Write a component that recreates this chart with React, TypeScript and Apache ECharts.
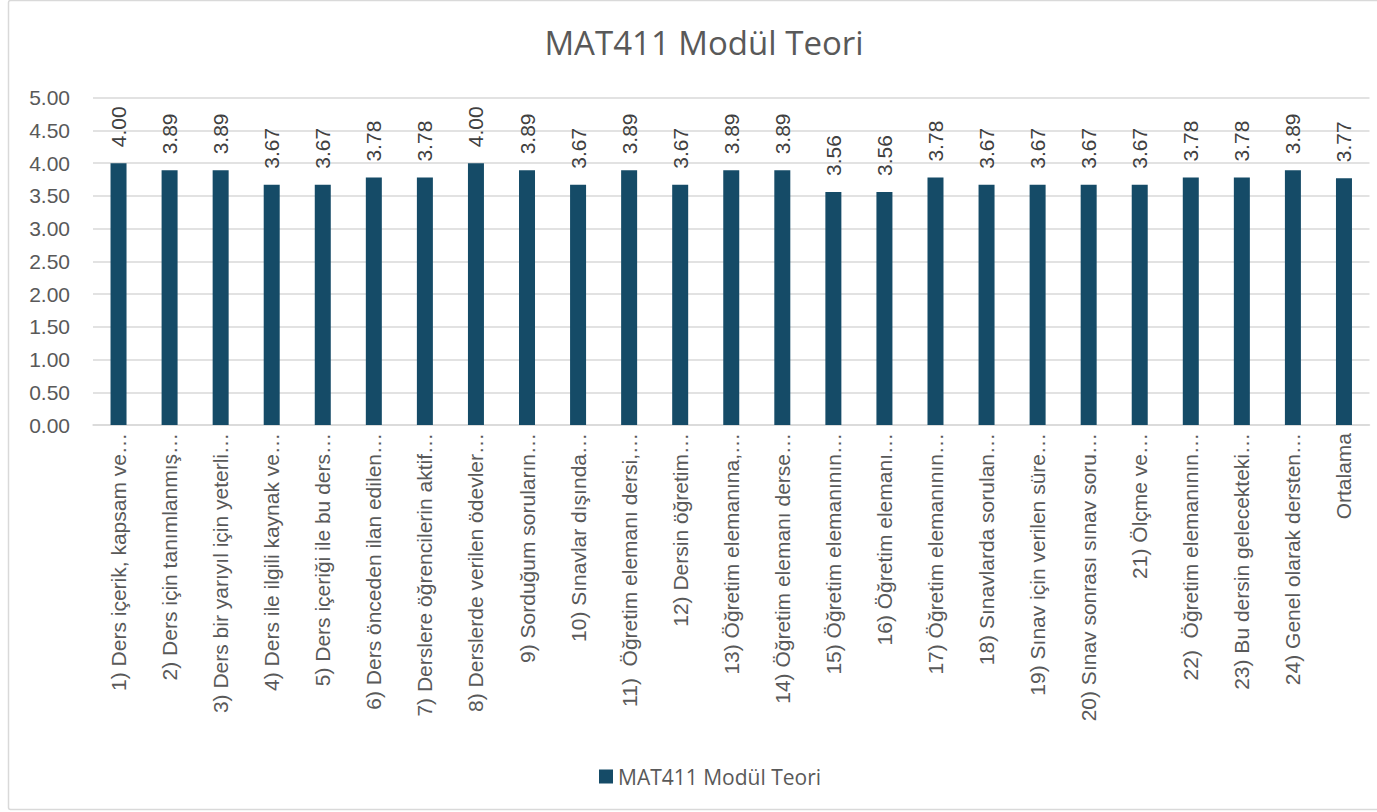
import React, { useEffect, useRef } from "react";
import * as echarts from "echarts";

const categories: string[] = [
  "1) Ders içerik, kapsam ve…",
  "2) Ders için tanımlanmış…",
  "3) Ders bir yarıyıl için yeterli…",
  "4) Ders ile ilgili kaynak ve…",
  "5) Ders içeriği ile bu ders…",
  "6) Ders önceden ilan edilen…",
  "7) Derslere öğrencilerin aktif…",
  "8) Derslerde verilen ödevler…",
  "9) Sorduğum soruların…",
  "10) Sınavlar dışında…",
  "11)  Öğretim elemanı dersi,…",
  "12) Dersin öğretim…",
  "13) Öğretim elemanına,…",
  "14) Öğretim elemanı derse…",
  "15) Öğretim elemanının…",
  "16) Öğretim elemanı…",
  "17) Öğretim elemanının…",
  "18) Sınavlarda sorulan…",
  "19) Sınav için verilen süre…",
  "20) Sınav sonrası sınav soru…",
  "21) Ölçme ve…",
  "22)  Öğretim elemanının…",
  "23) Bu dersin gelecekteki…",
  "24) Genel olarak dersten…",
  "Ortalama",
];

const values: number[] = [
  4.0, 3.89, 3.89, 3.67, 3.67, 3.78, 3.78, 4.0, 3.89, 3.67, 3.89, 3.67, 3.89,
  3.89, 3.56, 3.56, 3.78, 3.67, 3.67, 3.67, 3.67, 3.78, 3.78, 3.89, 3.77,
];

const seriesName = "MAT411 Modül Teori";
const chartTitle = "MAT411 Modül Teori";

export default function App() {
  const ref = useRef<HTMLDivElement>(null);

  useEffect(() => {
    if (!ref.current) return;
    const chart = echarts.init(ref.current, undefined, { renderer: "svg" });
    const labelFont = "'Liberation Sans', Arial, sans-serif";
    chart.setOption({
      animation: false,
      backgroundColor: "#ffffff",
      graphic: [
        {
          type: "rect",
          shape: { x: 8.5, y: 0.5, width: 1420, height: 809, r: 2 },
          style: { fill: "none", stroke: "#d9d9d9", lineWidth: 1.5 },
          silent: true,
        },
        {
          type: "text",
          x: 704,
          y: 42,
          style: {
            text: chartTitle,
            fontSize: 33,
            fontFamily: "'Open Sans', 'Noto Sans', sans-serif",
            fill: "#595959",
            textAlign: "center",
            textVerticalAlign: "middle",
          },
          silent: true,
        },
      ],
      legend: {
        left: 594,
        top: 761,
        icon: "rect",
        itemWidth: 14,
        itemHeight: 14,
        textStyle: {
          fontSize: 21,
          color: "#595959",
          fontFamily: "'Open Sans', 'Noto Sans', sans-serif",
        },
        data: [seriesName],
      },
      grid: {
        left: 93,
        right: 7.5,
        top: 97.7,
        bottom: 387,
        containLabel: false,
      },
      xAxis: {
        type: "category",
        data: categories,
        axisLine: { show: true, lineStyle: { color: "#d9d9d9", width: 1.5 } },
        axisTick: { show: false },
        axisLabel: {
          interval: 0,
          rotate: 90,
          margin: 8,
          fontSize: 21,
          color: "#595959",
          fontFamily: labelFont,
        },
      },
      yAxis: {
        type: "value",
        min: 0,
        max: 5,
        interval: 0.5,
        axisLine: { show: false },
        axisTick: { show: false },
        splitLine: { lineStyle: { color: "#d9d9d9", width: 1.5 } },
        axisLabel: {
          margin: 23,
          fontSize: 21,
          color: "#595959",
          fontFamily: labelFont,
          formatter: (v: number) => v.toFixed(2),
        },
      },
      series: [
        {
          name: seriesName,
          type: "bar",
          data: values,
          barWidth: 16,
          itemStyle: { color: "#154b67" },
          label: {
            show: true,
            position: "top",
            rotate: 90,
            align: "left",
            verticalAlign: "middle",
            distance: 16,
            fontSize: 21,
            color: "#404040",
            fontFamily: labelFont,
            formatter: (p: any) => Number(p.value).toFixed(2),
          },
        },
      ],
    });
    return () => chart.dispose();
  }, []);

  return (
    <div
      ref={ref}
      style={{ position: "absolute", left: 0, top: 0, width: 1377, height: 812 }}
    />
  );
}
